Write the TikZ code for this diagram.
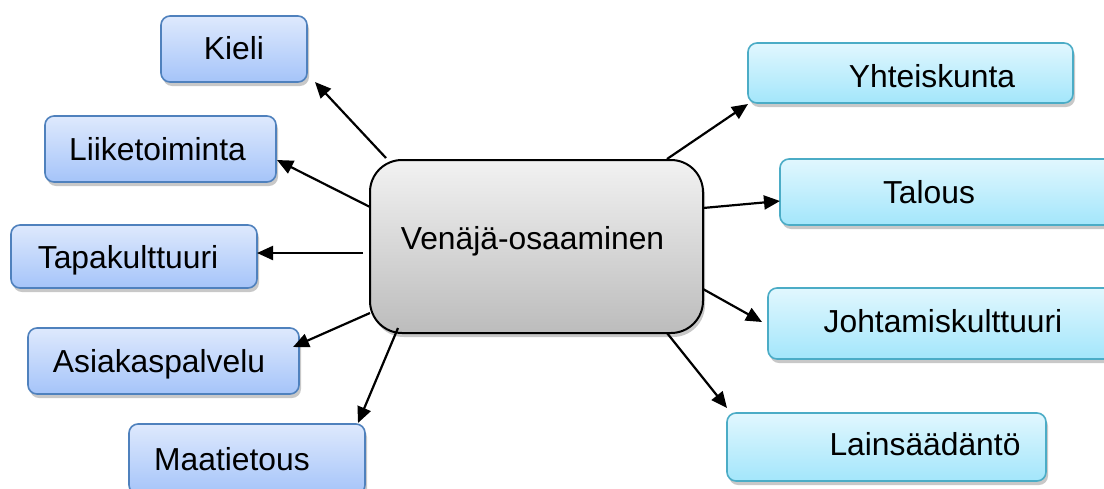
\documentclass[tikz,border=0pt]{standalone}
\usepackage{fontspec}
\setmainfont{Liberation Sans}
\usetikzlibrary{arrows.meta,shadows}
\definecolor{lefttop}{RGB}{222,233,253}
\definecolor{leftbot}{RGB}{165,196,249}
\definecolor{leftborder}{RGB}{79,129,189}
\definecolor{righttop}{RGB}{225,247,254}
\definecolor{rightbot}{RGB}{163,230,251}
\definecolor{rightborder}{RGB}{75,172,198}
\definecolor{midtop}{RGB}{242,242,242}
\definecolor{midbot}{RGB}{188,188,188}
\tikzset{
  boxbase/.style={rectangle, inner sep=0pt, outer sep=0pt,
    drop shadow={shadow xshift=2pt, shadow yshift=-4pt, fill=black!30, opacity=0.7}},
  leftbox/.style={boxbase, draw=leftborder, line width=1.6pt, rounded corners=9pt,
    top color=lefttop, bottom color=leftbot},
  rightbox/.style={boxbase, draw=rightborder, line width=1.6pt, rounded corners=9pt,
    top color=righttop, bottom color=rightbot},
  midbox/.style={boxbase, draw=black, line width=2pt, rounded corners=32pt,
    top color=midtop, bottom color=midbot},
  lbl/.style={anchor=base, inner sep=0pt, font=\fontsize{31.8}{38}\selectfont, text=black},
  arr/.style={line width=2.2pt, -{Triangle[length=16pt,width=14pt]}}
}
\begin{document}
\begin{tikzpicture}[x=1pt,y=-1pt]
\useasboundingbox (0,0) rectangle (1104,488);
\clip (0,0) rectangle (1104,488);
\fill[white] (0,0) rectangle (1104,488);

% left boxes
\node[leftbox, minimum width=146pt, minimum height=66pt] (kieliB) at (234,49) {};
\node[leftbox, minimum width=231pt, minimum height=66pt] (liikeB) at (160.5,149) {};
\node[leftbox, minimum width=246pt, minimum height=63pt] (tapaB) at (134,256.5) {};
\node[leftbox, minimum width=271pt, minimum height=66pt] (asiakB) at (163.5,361) {};
\node[leftbox, minimum width=236pt, minimum height=70pt] (maaB) at (247,459) {};

% right boxes
\node[rightbox, minimum width=325pt, minimum height=60pt] (yhtB) at (910.5,73) {};
\node[rightbox, minimum width=345pt, minimum height=66pt] (talB) at (952.5,192) {};
\node[rightbox, minimum width=357pt, minimum height=71pt] (johB) at (946.5,323.5) {};
\node[rightbox, minimum width=319pt, minimum height=68pt] (lainB) at (886.5,447) {};

% centre
\node[midbox, minimum width=333pt, minimum height=173pt] (venB) at (536.5,246.5) {};

% labels
\node[lbl] (kieli) at (234,59) {Kieli};
\node[lbl] (liike) at (157.5,160) {Liiketoiminta};
\node[lbl] (tapa) at (128,268) {Tapakulttuuri};
\node[lbl] (asiak) at (159,372) {Asiakaspalvelu};
\node[lbl] (maa) at (232,470) {Maatietous};
\node[lbl] (ven) at (532.5,249) {Venäjä-osaaminen};
\node[lbl] (yht) at (932,87) {Yhteiskunta};
\node[lbl] (tal) at (929,203) {Talous};
\node[lbl] (joh) at (943,332) {Johtamiskulttuuri};
\node[lbl] (lain) at (925,455) {Lainsäädäntö};

% connector end points
\coordinate (sKieli) at (386,158);  \coordinate (eKieli) at (315,82);
\coordinate (sLiike) at (370,207);  \coordinate (eLiike) at (277,160);
\coordinate (sTapa)  at (363,253);  \coordinate (eTapa)  at (257,253);
\coordinate (sAsiak) at (370,313);  \coordinate (eAsiak) at (293,347);
\coordinate (sMaa)   at (398,328);  \coordinate (eMaa)   at (358,423);
\coordinate (sYht)   at (667,159);  \coordinate (eYht)   at (748,104);
\coordinate (sTal)   at (703,208);  \coordinate (eTal)   at (780,201);
\coordinate (sJoh)   at (703,289);  \coordinate (eJoh)   at (762,322);
\coordinate (sLain)  at (667,333);  \coordinate (eLain)  at (727,408);

\draw[arr] (sKieli) -- (eKieli);
\draw[arr] (sLiike) -- (eLiike);
\draw[arr] (sTapa) -- (eTapa);
\draw[arr] (sAsiak) -- (eAsiak);
\draw[arr] (sMaa) -- (eMaa);
\draw[arr] (sYht) -- (eYht);
\draw[arr] (sTal) -- (eTal);
\draw[arr] (sJoh) -- (eJoh);
\draw[arr] (sLain) -- (eLain);
\end{tikzpicture}
\end{document}
